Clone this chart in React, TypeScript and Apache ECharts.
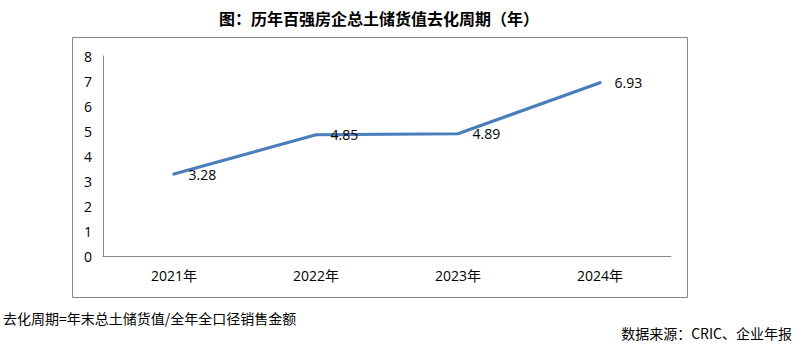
import React, { useEffect, useRef } from "react";
import * as echarts from "echarts";

const title = "图：历年百强房企总土储货值去化周期（年）";
const categories = ["2021年", "2022年", "2023年", "2024年"];
const values = [3.28, 4.85, 4.89, 6.93];
const yTicks = [0, 1, 2, 3, 4, 5, 6, 7, 8];
const noteText = "去化周期=年末总土储货值/全年全口径销售金额";
const sourceText = "数据来源：CRIC、企业年报";

const cjk = '"Noto Sans CJK SC", "Noto Sans", sans-serif';
const latin = '"Open Sans", "Noto Sans", "Noto Sans CJK SC", sans-serif';

export default function App() {
  const ref = useRef<HTMLDivElement>(null);
  useEffect(() => {
    if (!ref.current) return;
    const chart = echarts.init(ref.current, undefined, { renderer: "svg" });
    chart.setOption({
      animation: false,
      backgroundColor: "#ffffff",
      grid: { left: 103, right: 137, top: 56, bottom: 102, containLabel: false },
      xAxis: {
        type: "category",
        data: categories,
        boundaryGap: true,
        axisLine: { lineStyle: { color: "#868686", width: 1 } },
        axisTick: { show: false },
        axisLabel: { color: "#000", fontSize: 14, fontFamily: latin, margin: 12 },
      },
      yAxis: {
        type: "value",
        min: yTicks[0],
        max: yTicks[yTicks.length - 1],
        interval: 1,
        axisLine: { show: true, lineStyle: { color: "#868686", width: 1 } },
        axisTick: { show: false },
        splitLine: { show: false },
        axisLabel: { color: "#000", fontSize: 14, fontFamily: latin, margin: 11 },
      },
      series: [
        {
          type: "line",
          data: values,
          symbol: "circle",
          symbolSize: 1,
          showSymbol: true,
          itemStyle: { color: "#4a7ebb" },
          lineStyle: { color: "#4a7ebb", width: 3.2, cap: "round", join: "round" },
          label: {
            show: true,
            position: "right",
            distance: 14,
            color: "#000",
            fontSize: 14,
            fontFamily: latin,
          },
        },
      ],
      graphic: [
        {
          type: "rect",
          shape: { x: 72.5, y: 37.5, width: 615, height: 260 },
          style: { fill: "none", stroke: "#868686", lineWidth: 1 },
          silent: true,
        },
        {
          type: "text",
          x: 379,
          y: 18,
          style: {
            text: title,
            fontSize: 16,
            fontWeight: "bold",
            fontFamily: cjk,
            fill: "#000",
            textAlign: "center",
            textVerticalAlign: "middle",
          },
        },
        {
          type: "text",
          x: 3,
          y: 318,
          style: {
            text: noteText,
            fontSize: 14,
            fontFamily: cjk,
            fill: "#000",
            textAlign: "left",
            textVerticalAlign: "middle",
          },
        },
        {
          type: "text",
          x: 792,
          y: 333,
          style: {
            text: sourceText,
            fontSize: 14,
            fontFamily: cjk,
            fill: "#000",
            textAlign: "right",
            textVerticalAlign: "middle",
          },
        },
      ],
    });
    return () => chart.dispose();
  }, []);
  return (
    <div
      ref={ref}
      style={{ position: "fixed", left: 0, top: 0, width: 808, height: 358, background: "#fff" }}
    />
  );
}
